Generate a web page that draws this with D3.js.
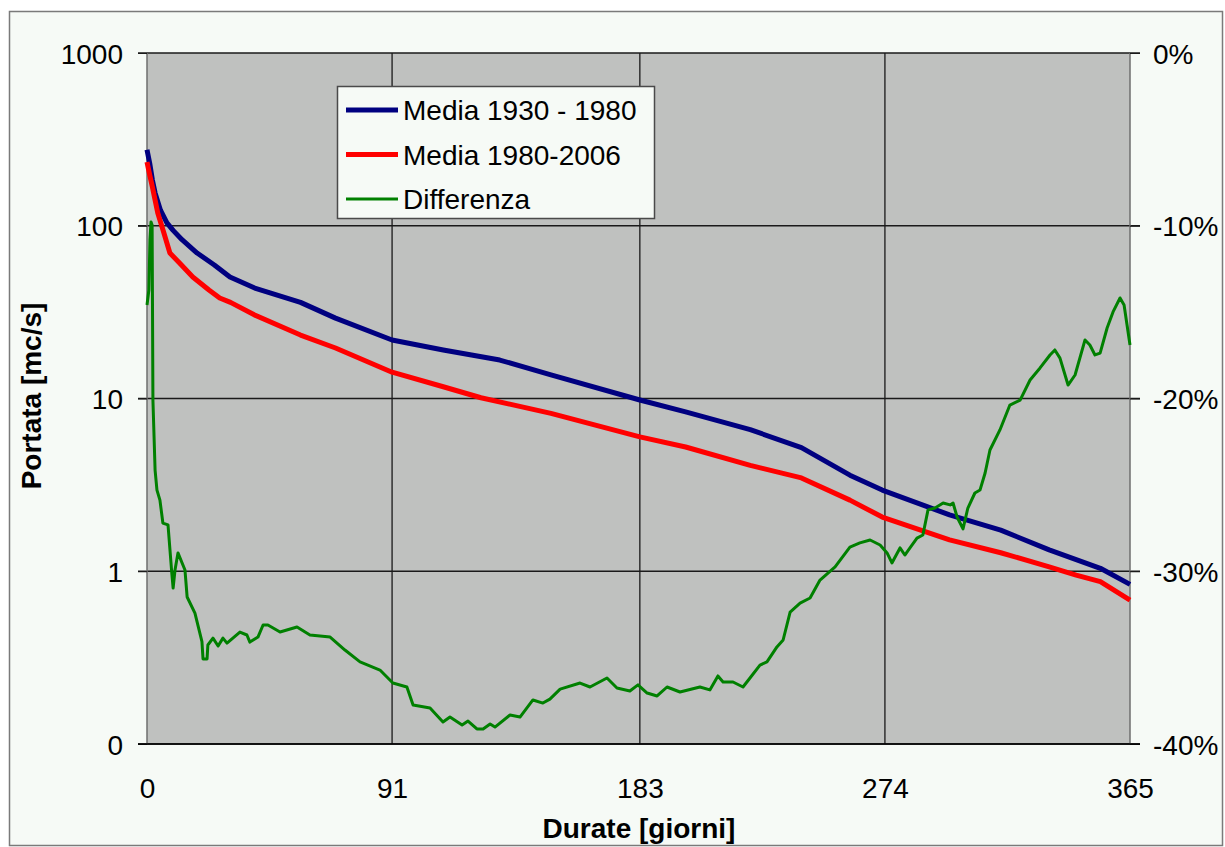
<!DOCTYPE html>
<html>
<head>
<meta charset="utf-8">
<script src="https://cdn.jsdelivr.net/npm/d3@7"></script>
<style>
  body { margin: 0; background: #ffffff; }
  text { font-family: "Liberation Sans", Arial, sans-serif; fill: #000; }
</style>
</head>
<body>
<svg id="chart" width="1225" height="847"></svg>
<script>
// Series 1: Media 1930 - 1980 (left axis, log)
const days1930 = [0, 1, 2, 3, 5, 7.4, 9.7, 13, 18.6, 25, 30.8, 40, 57, 70, 91, 110, 131, 150, 183, 200, 224, 243, 261, 273, 298, 317, 335, 354, 365];
const media1930 = [275, 230, 184, 155, 123, 104, 94, 83, 69.5, 59.3, 50.5, 43.6, 36, 29.2, 21.8, 19.1, 16.7, 13.7, 9.8, 8.36, 6.6, 5.2, 3.6, 2.95, 2.12, 1.73, 1.33, 1.04, 0.84];

// Series 2: Media 1980-2006 (left axis, log)
const days1980 = [0, 1, 2, 3, 4, 6, 8.5, 12, 17, 23, 27, 31, 40, 57, 70, 91, 110, 124, 150, 183, 200, 224, 243, 261, 273, 298, 317, 335, 345, 354, 365];
const media1980 = [234, 197, 168, 141, 118.6, 94, 69.5, 61, 50.5, 42.5, 38.2, 36, 30.4, 23.3, 19.6, 14.2, 11.7, 10.1, 8.2, 6.0, 5.24, 4.1, 3.47, 2.58, 2.06, 1.52, 1.28, 1.06, 0.95, 0.87, 0.68];

// Series 3: Differenza (right axis, %)
const daysDiff = [0, 0.7, 1.1, 1.5, 1.9, 2.2, 3.0, 3.7, 4.8, 5.9, 7.8, 9.2, 9.7, 10.4, 11.5, 14.1, 14.9, 17.8, 20.4, 20.8, 22.3, 22.6, 24.5, 26.4, 28.2, 29.7, 34.5, 37.1, 38.2, 41.2, 43.1, 44.9, 49.4, 55.7, 60.5, 68.0, 73.5, 79.1, 86.5, 91.3, 96.5, 98.8, 105.1, 109.9, 112.5, 117.0, 119.2, 122.5, 124.8, 127.4, 129.2, 134.8, 138.5, 143.3, 147.0, 149.6, 153.4, 160.8, 164.5, 170.8, 174.5, 179.3, 182.3, 185.7, 189.4, 193.1, 197.9, 205.3, 209.0, 212.0, 213.9, 217.6, 221.3, 223.9, 227.6, 230.2, 233.9, 236.2, 238.8, 242.5, 246.2, 249.9, 255.5, 261.0, 264.7, 268.5, 272.2, 274.8, 276.6, 279.6, 281.4, 283.3, 285.9, 288.1, 290.0, 292.6, 295.6, 298.2, 299.3, 300.8, 303.0, 304.8, 307.4, 309.3, 311.2, 313.0, 316.7, 320.4, 324.2, 327.9, 331.6, 335.3, 337.1, 339.0, 342.0, 344.6, 348.3, 350.1, 352.0, 353.9, 356.5, 358.7, 361.3, 362.8, 363.9, 365];
const differenza = [-14.59, -13.72, -10.82, -9.78, -9.96, -20.09, -24.14, -25.30, -25.88, -27.21, -27.32, -30.10, -30.97, -29.93, -28.94, -29.93, -31.49, -32.42, -34.07, -35.08, -35.08, -34.27, -33.87, -34.33, -33.87, -34.16, -33.52, -33.69, -34.10, -33.81, -33.11, -33.11, -33.52, -33.23, -33.69, -33.81, -34.56, -35.25, -35.72, -36.47, -36.70, -37.74, -37.92, -38.73, -38.44, -38.90, -38.67, -39.13, -39.13, -38.84, -39.02, -38.32, -38.44, -37.45, -37.63, -37.40, -36.82, -36.47, -36.70, -36.18, -36.76, -36.93, -36.58, -37.05, -37.22, -36.70, -36.99, -36.70, -36.87, -36.06, -36.41, -36.41, -36.70, -36.18, -35.43, -35.25, -34.38, -33.98, -32.36, -31.84, -31.55, -30.51, -29.75, -28.60, -28.36, -28.19, -28.48, -28.94, -29.52, -28.65, -29.06, -28.65, -28.08, -27.90, -26.45, -26.34, -26.05, -26.16, -26.05, -26.86, -27.55, -26.34, -25.47, -25.30, -24.31, -22.98, -21.82, -20.38, -20.09, -18.93, -18.23, -17.48, -17.19, -17.66, -19.22, -18.64, -16.61, -16.90, -17.48, -17.37, -15.92, -14.99, -14.18, -14.59, -15.75, -16.90];

// Axis ticks
const xTicks = [0, 91, 183, 274, 365];
const yTicks = [0.1, 1, 10, 100, 1000];
const pctTicks = [0, -10, -20, -30, -40];
const legendLabels = ["Media 1930 - 1980", "Media 1980-2006", "Differenza"];

const plotLeft = 147, plotRight = 1130, plotTop = 53, plotBottom = 744;
const svg = d3.select("#chart");

// outer chart area
svg.append("rect")
    .attr("x", 9.5).attr("y", 11.5)
    .attr("width", 1213).attr("height", 834)
    .attr("fill", "#f6faf6")
    .attr("stroke", "#7a7a7a")
    .attr("stroke-width", 1.5);

// Scales
const x = d3.scaleLinear().domain([0, 365]).range([plotLeft, plotRight]);
const y = d3.scaleLog().domain([0.1, 1000]).range([plotBottom, plotTop]);
const y2 = d3.scaleLinear().domain([-40, 0]).range([plotBottom, plotTop]);

// plot background
svg.append("rect")
    .attr("x", plotLeft).attr("y", plotTop)
    .attr("width", plotRight - plotLeft).attr("height", plotBottom - plotTop)
    .attr("fill", "#bfc1bf");

// horizontal grid (spans the tick marks on both sides)
svg.append("g")
    .selectAll("line")
    .data(yTicks)
    .enter().append("line")
    .attr("x1", plotLeft - 9).attr("x2", plotRight + 10)
    .attr("y1", d => y(d)).attr("y2", d => y(d))
    .attr("stroke", "#1a1a1a")
    .attr("stroke-width", 1.3);

// vertical grid
svg.append("g")
    .selectAll("line")
    .data(xTicks.slice(1, -1))
    .enter().append("line")
    .attr("x1", d => x(d)).attr("x2", d => x(d))
    .attr("y1", plotTop).attr("y2", plotBottom)
    .attr("stroke", "#1a1a1a")
    .attr("stroke-width", 1.3);

// plot side borders
svg.append("line")
    .attr("x1", plotLeft).attr("x2", plotLeft).attr("y1", plotTop).attr("y2", plotBottom)
    .attr("stroke", "#6e6e6e").attr("stroke-width", 1.5);
svg.append("line")
    .attr("x1", plotRight).attr("x2", plotRight).attr("y1", plotTop).attr("y2", plotBottom)
    .attr("stroke", "#6e6e6e").attr("stroke-width", 1.5);

// Left axis
const yAxis = d3.axisLeft(y)
    .tickValues(yTicks)
    .tickSize(9)
    .tickPadding(15)
    .tickFormat(d => d < 1 ? "0" : d3.format("d")(d));
const gy = svg.append("g")
    .attr("transform", `translate(${plotLeft},0)`)
    .call(yAxis);
gy.select(".domain").remove();
gy.selectAll("line").attr("stroke", "#1a1a1a");
gy.selectAll("text").style("font-size", "28px").attr("dy", "0.36em");

// Right axis
const y2Axis = d3.axisRight(y2)
    .tickValues(pctTicks)
    .tickSize(10)
    .tickPadding(13)
    .tickFormat(d => d + "%");
const gy2 = svg.append("g")
    .attr("transform", `translate(${plotRight},0)`)
    .call(y2Axis);
gy2.select(".domain").remove();
gy2.selectAll("line").attr("stroke", "#1a1a1a");
gy2.selectAll("text").style("font-size", "28px").attr("dy", "0.36em");

// Bottom axis
const xAxis = d3.axisBottom(x)
    .tickValues(xTicks)
    .tickSize(0)
    .tickPadding(34)
    .tickFormat(d3.format("d"));
const gx = svg.append("g")
    .attr("transform", `translate(0,${plotBottom})`)
    .call(xAxis);
gx.select(".domain").remove();
gx.selectAll("text").style("font-size", "28px");

svg.append("line")
    .attr("x1", plotLeft - 9).attr("x2", plotRight + 10)
    .attr("y1", plotBottom).attr("y2", plotBottom)
    .attr("stroke", "#000").attr("stroke-width", 1.5);

// Lines
const line1 = d3.line().x((d, i) => x(days1930[i])).y(d => y(d));
const line2 = d3.line().x((d, i) => x(days1980[i])).y(d => y(d));
const line3 = d3.line().x((d, i) => x(daysDiff[i])).y(d => y2(d));

svg.append("path")
    .datum(media1930)
    .attr("d", line1)
    .attr("fill", "none")
    .attr("stroke", "#000080")
    .attr("stroke-width", 5)
    .attr("stroke-linejoin", "round");

svg.append("path")
    .datum(media1980)
    .attr("d", line2)
    .attr("fill", "none")
    .attr("stroke", "#ff0000")
    .attr("stroke-width", 5)
    .attr("stroke-linejoin", "round");

svg.append("path")
    .datum(differenza)
    .attr("d", line3)
    .attr("fill", "none")
    .attr("stroke", "#008000")
    .attr("stroke-width", 3)
    .attr("stroke-linejoin", "round");

// Axis titles
svg.append("text")
    .attr("transform", "translate(41,396) rotate(-90)")
    .attr("text-anchor", "middle")
    .style("font-size", "28px")
    .style("font-weight", "bold")
    .text("Portata [mc/s]");

svg.append("text")
    .attr("x", 639).attr("y", 838)
    .attr("text-anchor", "middle")
    .style("font-size", "28px")
    .style("font-weight", "bold")
    .text("Durate [giorni]");

// Legend
const legendColors = ["#000080", "#ff0000", "#008000"];
const legendWidths = [5, 5, 3];
const legend = svg.append("g");
legend.append("rect")
    .attr("x", 337.5).attr("y", 86.5)
    .attr("width", 317).attr("height", 132)
    .attr("fill", "#f6faf6")
    .attr("stroke", "#4a4a4a")
    .attr("stroke-width", 1.5);

const rows = legend.selectAll(".row")
    .data(legendLabels)
    .enter().append("g")
    .attr("transform", (d, i) => `translate(0,${110 + i * 44.5})`);

rows.append("line")
    .attr("x1", 346).attr("x2", 398)
    .attr("y1", 0).attr("y2", 0)
    .attr("stroke", (d, i) => legendColors[i])
    .attr("stroke-width", (d, i) => legendWidths[i]);

rows.append("text")
    .attr("x", 403).attr("y", 10)
    .style("font-size", "28px")
    .text(d => d);
</script>
</body>
</html>
